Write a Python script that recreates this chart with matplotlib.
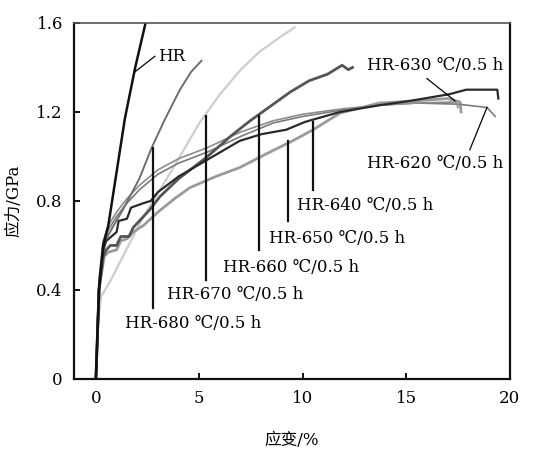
import matplotlib
matplotlib.use("Agg")
import matplotlib.pyplot as plt

# Strain (%) / stress (GPa) for each specimen
hr_strain = [0, 0.15, 0.35, 0.6, 1.0, 1.4, 1.9, 2.4]
hr_stress = [0, 0.40, 0.60, 0.69, 0.93, 1.17, 1.40, 1.60]

s620_strain = [0, 0.15, 0.35, 0.6, 1.0, 1.5, 2.1, 3.0, 4.0, 5.4, 7.0, 8.55, 10, 12, 13.7, 15.5, 17.5, 18.9, 19.3]
s620_stress = [0, 0.45, 0.60, 0.67, 0.73, 0.79, 0.85, 0.92, 0.97, 1.02, 1.09, 1.15, 1.18, 1.21, 1.23, 1.24, 1.235, 1.22, 1.18]

s630_strain = [0, 0.15, 0.35, 0.6, 1.0, 1.5, 2.1, 3.0, 4.0, 5.4, 7.0, 8.55, 10, 12, 13.7, 15.5, 17.4, 17.5]
s630_stress = [0, 0.45, 0.62, 0.69, 0.75, 0.81, 0.87, 0.94, 0.99, 1.04, 1.11, 1.16, 1.19, 1.215, 1.23, 1.24, 1.245, 1.22]

s640_strain = [0, 0.15, 0.35, 0.5, 1.0, 1.1, 1.5, 1.7, 2.3, 2.65, 3.0, 4.0, 5.2, 6.95, 8.0, 9.2, 10.1, 11.8, 13.7, 15.2, 17.1, 17.9, 19.4, 19.45]
s640_stress = [0, 0.42, 0.58, 0.62, 0.66, 0.71, 0.72, 0.77, 0.79, 0.80, 0.84, 0.91, 0.975, 1.07, 1.10, 1.12, 1.155, 1.20, 1.23, 1.25, 1.28, 1.30, 1.30, 1.26]

s650_strain = [0, 0.15, 0.4, 0.6, 1.0, 1.2, 1.5, 1.8, 2.3, 3.0, 3.8, 4.55, 5.8, 6.95, 8.2, 9.4, 10.5, 11.8, 13.7, 15.5, 17.0, 17.6, 17.65]
s650_stress = [0, 0.40, 0.55, 0.57, 0.58, 0.62, 0.63, 0.66, 0.69, 0.75, 0.81, 0.86, 0.91, 0.95, 1.01, 1.065, 1.12, 1.195, 1.24, 1.25, 1.26, 1.245, 1.20]

s660_strain = [0, 0.15, 0.35, 0.5, 0.7, 1.0, 1.2, 1.6, 1.8, 2.2, 2.6, 3.1, 4.0, 5.4, 6.5, 7.45, 8.5, 9.4, 10.3, 11.2, 11.9, 12.2, 12.4]
s660_stress = [0, 0.40, 0.55, 0.58, 0.60, 0.60, 0.64, 0.64, 0.68, 0.72, 0.76, 0.82, 0.90, 1.00, 1.09, 1.16, 1.23, 1.29, 1.34, 1.37, 1.41, 1.39, 1.40]

s670_strain = [0, 0.1, 0.25, 0.7, 1.3, 2.3, 3.1, 4.0, 5.0, 6.0, 7.0, 7.9, 8.8, 9.6]
s670_stress = [0, 0.25, 0.37, 0.44, 0.55, 0.73, 0.85, 0.99, 1.15, 1.28, 1.39, 1.47, 1.53, 1.58]

s680_strain = [0, 0.2, 0.45, 0.8, 1.3, 1.7, 2.1, 2.7, 3.3, 4.06, 4.6, 5.1]
s680_stress = [0, 0.45, 0.62, 0.68, 0.76, 0.83, 0.90, 1.04, 1.16, 1.30, 1.38, 1.43]

x_ticks = [0, 5, 10, 15, 20]
y_ticks = [0, 0.4, 0.8, 1.2, 1.6]
y_tick_labels = ["0", "0.4", "0.8", "1.2", "1.6"]

serif = ["DejaVu Serif", "Noto Sans CJK SC"]
plt.rcParams["font.family"] = serif

fig = plt.figure(figsize=(5.36, 4.5), dpi=100)
ax = fig.add_axes([0.138, 0.158, 0.813, 0.791])

curves = [
    (s670_strain, s670_stress, "#cdcdcd", 1.6),
    (s650_strain, s650_stress, "#9a9a9a", 2.0),
    (s620_strain, s620_stress, "#7a7a7a", 1.2),
    (s630_strain, s630_stress, "#8c8c8c", 1.2),
    (s680_strain, s680_stress, "#6e6e6e", 1.4),
    (s660_strain, s660_stress, "#555555", 2.0),
    (s640_strain, s640_stress, "#2a2a2a", 1.6),
    (hr_strain, hr_stress, "#111111", 1.8),
]
for xs, ys, c, lw in curves:
    ax.plot(xs, ys, color=c, lw=lw, solid_joinstyle="round")

ax.set_xlim(-1.06, 20)
ax.set_ylim(0, 1.6)
ax.set_xticks(x_ticks)
ax.set_yticks(y_ticks)
ax.set_yticklabels(y_tick_labels)
ax.tick_params(direction="in", length=4, width=1.3, labelsize=12, pad=8)

for side in ["left", "bottom", "right"]:
    ax.spines[side].set_linewidth(1.6)
    ax.spines[side].set_color("#111111")
ax.spines["top"].set_linewidth(1.2)
ax.spines["top"].set_color("#555555")

ax.set_xlabel("应变/%", fontsize=12, labelpad=18)
ax.set_ylabel("应力/GPa", fontsize=12, labelpad=10)

fs = 12
# HR label with leader
ax.plot([1.88, 2.85], [1.38, 1.45], color="black", lw=0.9)
ax.text(3.0, 1.45, "HR", fontsize=fs, va="center", ha="left")

# 630 / 620 labels with slanted leaders
ax.plot([16.0, 17.35], [1.35, 1.25], color="black", lw=0.9)
ax.text(13.1, 1.41, "HR-630 ℃/0.5 h", fontsize=fs, va="center", ha="left")
ax.plot([18.07, 18.9], [1.03, 1.22], color="black", lw=0.9)
ax.text(13.1, 0.97, "HR-620 ℃/0.5 h", fontsize=fs, va="center", ha="left")

# Vertical leaders for the remaining specimens
vert = [
    (10.5, 1.155, 0.85, 9.7, 0.78, "HR-640 ℃/0.5 h"),
    (9.3, 1.07, 0.71, 8.35, 0.63, "HR-650 ℃/0.5 h"),
    (7.9, 1.18, 0.58, 6.15, 0.50, "HR-660 ℃/0.5 h"),
    (5.3, 1.18, 0.445, 3.45, 0.38, "HR-670 ℃/0.5 h"),
    (2.75, 1.04, 0.32, 1.4, 0.25, "HR-680 ℃/0.5 h"),
]
for xv, ytop, ybot, tx, ty, label in vert:
    ax.plot([xv, xv], [ybot, ytop], color="#111111", lw=1.6)
    ax.text(tx, ty, label, fontsize=fs, va="center", ha="left")

fig.savefig("out.png", dpi=100, facecolor="white")
